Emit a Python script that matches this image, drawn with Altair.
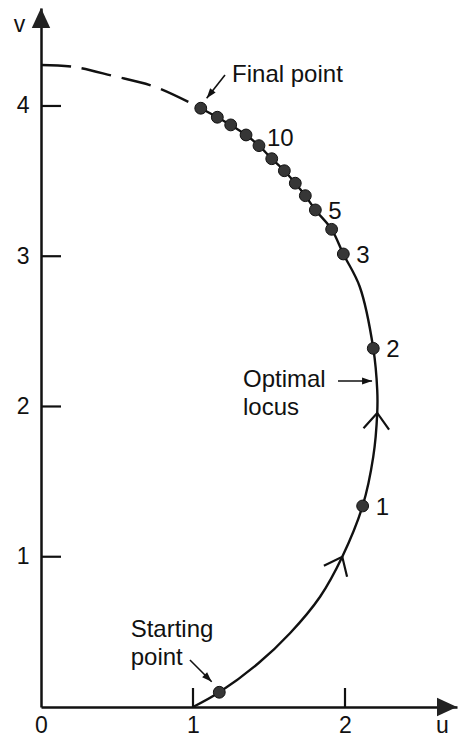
import math

import altair as alt
import pandas as pd

# ---- values -------------------------------------------------------------
# optimal locus in the (u, v) plane, from the start at (1, 0) to the final point
locus_u = [1.000, 1.173, 1.430, 1.638, 1.836, 1.982, 2.116, 2.186, 2.212, 2.212,
           2.186, 2.097, 1.989, 1.912, 1.805, 1.739, 1.673, 1.601, 1.518, 1.434,
           1.349, 1.248, 1.160, 1.051]
locus_v = [0.000, 0.098, 0.291, 0.491, 0.734, 1.000, 1.338, 1.666, 1.957, 2.110,
           2.387, 2.797, 3.015, 3.179, 3.308, 3.403, 3.486, 3.569, 3.649, 3.736,
           3.807, 3.874, 3.925, 3.985]

# continuation of the locus beyond the final point, back to the v axis (dashed)
ext_u = [0.000, 0.204, 0.474, 0.757, 1.051]
ext_v = [4.273, 4.262, 4.200, 4.125, 3.985]

# iterates along the locus (0 = starting point, 14 = final point)
iter_u = [1.173, 2.116, 2.186, 1.989, 1.912, 1.805, 1.739, 1.673, 1.601, 1.518,
          1.434, 1.349, 1.248, 1.160, 1.051]
iter_v = [0.098, 1.338, 2.387, 3.015, 3.179, 3.308, 3.403, 3.486, 3.569, 3.649,
          3.736, 3.807, 3.874, 3.925, 3.985]
iter_label = ["", "1", "2", "3", "", "5", "", "", "", "", "10", "", "", "", ""]

# direction markers sit on these locus samples
chevron_at = [5, 8]

x_ticks = [0, 1, 2]
y_ticks = [1, 2, 3, 4]

# callouts: text anchor and the pointer segment (tail -> head)
note_text = ["Final point", "Optimal\nlocus", "Starting\npoint"]
note_u = [1.257, 1.329, 0.590]
note_v = [4.162, 2.128, 0.468]
ptr_u = [1.2105, 1.954, 0.980]
ptr_v = [4.206, 2.170, 0.313]
ptr_u2 = [1.090, 2.178, 1.123]
ptr_v2 = [4.051, 2.170, 0.168]

# ---- layout / style -----------------------------------------------------
FONT = "Liberation Sans"
INK = "#111111"
PLOT_W, PLOT_H = 416, 699
X_MAX = 2.7368
Y_MAX = 4.652
PX_U = PLOT_W / X_MAX
PX_V = PLOT_H / Y_MAX
FS = 24
FS_AXIS = 23

x_scale = alt.Scale(domain=[0, X_MAX], nice=False, zero=False)
y_scale = alt.Scale(domain=[0, Y_MAX], nice=False, zero=False)

x_axis = alt.Axis(
    values=x_ticks, format="d", ticks=False, grid=False,
    domainColor=INK, domainWidth=2.5,
    labelFont=FONT, labelFontSize=FS_AXIS, labelColor=INK, labelPadding=7,
    labelFlush=False,
    title="u", titleFont=FONT, titleFontSize=FS_AXIS, titleFontWeight="normal",
    titleColor=INK, titleX=401, titleY=25, titleAlign="center",
    titleBaseline="alphabetic",
)
y_axis = alt.Axis(
    values=y_ticks, format="d", ticks=False, grid=False,
    domainColor=INK, domainWidth=2.5,
    labelFont=FONT, labelFontSize=FS_AXIS, labelColor=INK, labelPadding=12,
    title="v", titleFont=FONT, titleFontSize=FS_AXIS, titleFontWeight="normal",
    titleColor=INK, titleAngle=0, titleX=-22, titleY=16, titleAlign="center",
    titleBaseline="middle",
)


def X(field="u"):
    return alt.X(f"{field}:Q", scale=x_scale, axis=x_axis)


def Y(field="v"):
    return alt.Y(f"{field}:Q", scale=y_scale, axis=y_axis)


def screen_angle(du, dv):
    """Clockwise angle from 'up' of a data-space direction, in degrees."""
    return math.degrees(math.atan2(du * PX_U, dv * PX_V))


# ---- tables -------------------------------------------------------------
locus = pd.DataFrame({"u": locus_u, "v": locus_v, "i": range(len(locus_u))})
ext = pd.DataFrame({"u": ext_u, "v": ext_v, "i": range(len(ext_u))})
iters = pd.DataFrame({"u": iter_u, "v": iter_v, "label": iter_label})

chev_rows = []
for k in chevron_at:
    du = locus_u[k + 1] - locus_u[k - 1]
    dv = locus_v[k + 1] - locus_v[k - 1]
    chev_rows.append({"u": locus_u[k], "v": locus_v[k], "angle": screen_angle(du, dv)})
chevrons = pd.DataFrame(chev_rows)

notes = pd.DataFrame({"u": note_u, "v": note_v, "text": note_text})
pointers = pd.DataFrame({"u": ptr_u, "v": ptr_v, "u2": ptr_u2, "v2": ptr_v2})
heads = pd.DataFrame({
    "u": ptr_u2, "v": ptr_v2,
    "angle": [screen_angle(a2 - a, b2 - b)
              for a, b, a2, b2 in zip(ptr_u, ptr_v, ptr_u2, ptr_v2)],
})
axis_heads = pd.DataFrame({"u": [0.0, X_MAX], "v": [Y_MAX, 0.0], "angle": [0, 90]})

# ---- layers -------------------------------------------------------------
x_tick_marks = alt.Chart(pd.DataFrame({"u": [1, 2]})).mark_rule(
    color=INK, strokeWidth=2.2
).encode(x=X(), y=alt.value(PLOT_H), y2=alt.value(PLOT_H - 19))

y_tick_marks = alt.Chart(pd.DataFrame({"v": y_ticks})).mark_rule(
    color=INK, strokeWidth=2.2
).encode(y=Y(), x=alt.value(0), x2=alt.value(20))

locus_line = alt.Chart(locus).mark_line(
    color=INK, strokeWidth=2.4, interpolate="catmull-rom"
).encode(x=X(), y=Y(), order=alt.Order("i:Q"))

ext_line = alt.Chart(ext).mark_line(
    color=INK, strokeWidth=2.4, interpolate="catmull-rom", strokeDash=[30, 11]
).encode(x=X(), y=Y(), order=alt.Order("i:Q"))

chevron_marks = alt.Chart(chevrons).mark_point(
    shape="M-0.8,1L0,0L0.8,1", size=1024, filled=False,
    stroke=INK, strokeWidth=2.2, opacity=1,
).encode(x=X(), y=Y(), angle=alt.Angle("angle:Q", scale=None))

dots = alt.Chart(iters).mark_point(
    filled=True, size=140, color="#363636", stroke=INK, strokeWidth=1, opacity=1
).encode(x=X(), y=Y())

dot_text = alt.Chart(iters).transform_filter(
    "datum.label != '' && datum.label != '10'"
).mark_text(
    align="left", baseline="middle", dx=13, dy=2,
    font=FONT, fontSize=FS, color=INK,
).encode(x=X(), y=Y(), text="label:N")

dot_text_10 = alt.Chart(iters).transform_filter(
    "datum.label == '10'"
).mark_text(
    align="left", baseline="middle", dx=8, dy=-7,
    font=FONT, fontSize=FS, color=INK,
).encode(x=X(), y=Y(), text="label:N")

note_marks = alt.Chart(notes).mark_text(
    align="left", baseline="alphabetic", lineBreak="\n", lineHeight=28,
    font=FONT, fontSize=FS, color=INK,
).encode(x=X(), y=Y(), text="text:N")

pointer_marks = alt.Chart(pointers).mark_rule(
    color=INK, strokeWidth=1.6
).encode(x=X(), y=Y(), x2="u2:Q", y2="v2:Q")

head_marks = alt.Chart(heads).mark_point(
    shape="M0,0L0.35,1L-0.35,1Z", size=400, filled=True,
    color=INK, opacity=1,
).encode(x=X(), y=Y(), angle=alt.Angle("angle:Q", scale=None))

axis_head_marks = alt.Chart(axis_heads).mark_point(
    shape="M0,0L0.46,1L-0.46,1Z", size=1600, filled=True,
    color="#222222", opacity=1,
).encode(x=X(), y=Y(), angle=alt.Angle("angle:Q", scale=None))

chart = alt.layer(
    x_tick_marks, y_tick_marks, ext_line, locus_line, chevron_marks,
    pointer_marks, head_marks, dots, dot_text, dot_text_10, note_marks,
    axis_head_marks,
).properties(
    width=PLOT_W,
    height=PLOT_H,
    padding={"left": 41, "top": 8, "right": 1, "bottom": 30},
    autosize=alt.AutoSizeParams(type="none"),
    background="white",
).configure_view(stroke=None)

chart.save("out.html", embed_options={"renderer": "svg", "actions": False})
